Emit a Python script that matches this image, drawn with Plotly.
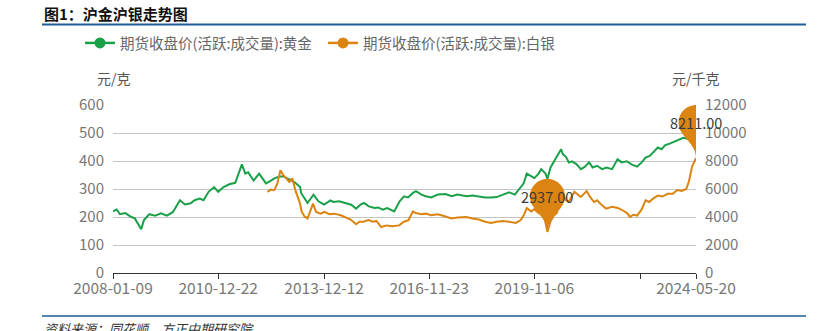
import numpy as np
import plotly.graph_objects as go

# ---- data -------------------------------------------------------------
gold_dates = [
    "2008-01-09", "2008-02-15", "2008-03-20", "2008-05-15", "2008-07-15", "2008-08-20",
    "2008-10-24", "2008-11-20", "2009-01-15", "2009-03-15", "2009-05-15", "2009-07-15",
    "2009-09-15", "2009-11-25", "2010-01-15", "2010-03-15", "2010-04-25", "2010-06-15",
    "2010-07-25", "2010-09-15", "2010-11-10", "2010-12-22", "2011-02-15", "2011-04-15",
    "2011-06-15", "2011-07-20", "2011-08-22", "2011-09-26", "2011-10-25", "2011-12-20",
    "2012-02-15", "2012-03-20", "2012-04-25", "2012-06-15", "2012-07-20", "2012-09-10",
    "2012-10-20", "2012-12-15", "2013-02-10", "2013-04-10", "2013-04-20", "2013-06-25",
    "2013-07-20", "2013-08-25", "2013-10-15", "2013-12-12", "2014-02-15", "2014-03-20",
    "2014-05-15", "2014-07-15", "2014-09-15", "2014-11-05", "2014-12-20", "2015-01-25",
    "2015-03-15", "2015-05-15", "2015-06-20", "2015-08-05", "2015-09-20", "2015-12-01",
    "2016-01-25", "2016-03-10", "2016-04-20", "2016-06-10", "2016-07-10", "2016-09-05",
    "2016-10-20", "2016-12-15", "2017-02-20", "2017-05-10", "2017-07-10", "2017-09-10",
    "2017-12-10", "2018-02-10", "2018-04-15", "2018-06-20", "2018-08-20", "2018-10-15",
    "2018-12-20", "2019-02-20", "2019-04-20", "2019-06-10", "2019-07-20", "2019-08-20",
    "2019-10-05", "2019-11-06", "2019-12-20", "2020-01-15", "2020-02-28", "2020-03-19",
    "2020-04-20", "2020-05-20", "2020-06-25", "2020-08-06", "2020-08-25", "2020-09-25",
    "2020-10-25", "2020-11-25", "2021-01-10", "2021-02-25", "2021-04-05", "2021-05-20",
    "2021-06-25", "2021-08-10", "2021-09-30", "2021-11-15", "2022-01-10", "2022-03-08",
    "2022-04-20", "2022-06-10", "2022-08-01", "2022-09-25", "2022-11-10", "2022-12-20",
    "2023-02-01", "2023-03-20", "2023-04-25", "2023-06-01", "2023-07-10", "2023-08-25",
    "2023-10-10", "2023-11-25", "2024-01-10", "2024-02-15", "2024-03-15", "2024-04-20",
    "2024-05-20",
]
gold_close = [
    220, 227, 210, 214, 200, 195,
    156, 188, 210, 205, 213, 205,
    218, 260, 245, 249, 260, 266,
    260, 290, 307, 290, 307, 317,
    322, 355, 388, 355, 360, 330,
    355, 338, 320, 330, 338, 345,
    345, 335, 325, 307, 286, 250,
    262, 280, 256, 244, 259, 254,
    256, 250, 244, 230, 244, 250,
    238, 232, 234, 226, 232, 220,
    256, 274, 270, 286, 292, 280,
    274, 270, 280, 282, 274, 280,
    274, 277, 274, 270, 270, 271,
    280, 288, 280, 303, 320, 355,
    347, 339, 355, 371, 355, 336,
    377, 395, 418, 442, 424, 415,
    395, 399, 389, 371, 379, 395,
    377, 383, 371, 377, 371, 406,
    395, 399, 387, 380, 395, 412,
    418, 436, 448, 442, 457, 462,
    469, 474, 483, 480, 515, 560,
    565,
]

silver_dates = [
    "2012-05-10", "2012-06-15", "2012-07-20", "2012-08-20", "2012-09-20", "2012-10-20",
    "2012-11-15", "2012-12-20", "2013-01-20", "2013-02-20", "2013-04-10", "2013-04-25",
    "2013-05-25", "2013-06-25", "2013-08-20", "2013-09-20", "2013-11-05", "2013-12-15",
    "2014-02-05", "2014-03-25", "2014-06-01", "2014-07-15", "2014-09-10", "2014-11-05",
    "2014-12-10", "2015-01-20", "2015-03-10", "2015-04-25", "2015-06-01", "2015-07-20",
    "2015-09-15", "2015-11-10", "2016-01-20", "2016-03-10", "2016-04-25", "2016-06-10",
    "2016-07-10", "2016-09-05", "2016-10-20", "2016-12-15", "2017-02-20", "2017-05-10",
    "2017-07-10", "2017-09-10", "2017-12-10", "2018-02-10", "2018-04-15", "2018-06-20",
    "2018-08-20", "2018-10-15", "2018-12-20", "2019-02-20", "2019-05-01", "2019-06-20",
    "2019-07-20", "2019-08-20", "2019-10-05", "2019-11-06", "2019-12-20", "2020-02-10",
    "2020-03-19", "2020-04-20", "2020-05-25", "2020-06-25", "2020-07-25", "2020-08-10",
    "2020-09-25", "2020-10-25", "2020-12-20", "2021-02-25", "2021-04-25", "2021-05-30",
    "2021-07-10", "2021-08-10", "2021-09-30", "2021-11-10", "2022-01-10", "2022-03-10",
    "2022-04-25", "2022-06-15", "2022-07-15", "2022-08-15", "2022-09-25", "2022-11-10",
    "2022-12-20", "2023-01-25", "2023-03-10", "2023-04-25", "2023-06-10", "2023-08-05",
    "2023-09-25", "2023-11-10", "2023-12-25", "2024-02-10", "2024-03-08", "2024-04-10",
    "2024-05-20",
]
silver_close = [
    5800, 5960, 5920, 6400, 7340, 6980,
    6800, 6500, 6760, 5920, 4960, 4400,
    4040, 3900, 4960, 4360, 4240, 4360,
    4200, 4240, 4120, 4000, 3820, 3480,
    3660, 3660, 3780, 3660, 3720, 3280,
    3400, 3340, 3400, 3660, 3780, 4400,
    4280, 4200, 4240, 4120, 4200, 4040,
    3900, 3960, 4000, 3900, 3820, 3660,
    3580, 3660, 3720, 3660, 3580, 3780,
    4120, 4640, 4400, 4560, 4280, 4200,
    2937, 3700, 4100, 4300, 5300, 5900,
    5200, 5100, 5800, 5430, 5850, 5430,
    5070, 5190, 4830, 4600, 4730, 4650,
    4500, 4260, 4000, 4160, 4100, 4540,
    5190, 5070, 5330, 5530, 5460, 5660,
    5660, 5930, 5860, 6000, 6530, 7600,
    8211,
]

gold_name = "期货收盘价(活跃:成交量):黄金"
silver_name = "期货收盘价(活跃:成交量):白银"

x_tick_vals = ["2008-01-09", "2010-12-22", "2013-12-12", "2016-11-23",
               "2019-11-06", "2022-10-28", "2024-05-20"]
x_tick_text = ["2008-01-09", "2010-12-22", "2013-12-12", "2016-11-23",
               "2019-11-06", "", "2024-05-20"]
left_ticks = [0, 100, 200, 300, 400, 500, 600]
right_ticks = [0, 2000, 4000, 6000, 8000, 10000, 12000]
right_tick_text = ["0", "2000", "4000", "6000", "8000", "10000", "12000"]

# ---- style ------------------------------------------------------------
GREEN = "#1BA04A"
ORANGE = "#DB8412"
FONT = "Noto Sans CJK SC"
W, H = 818, 331
L, R, T, B = 113, 122, 105, 58


def px_x(px):
    return (px - L) / (W - L - R)


def px_y(py):
    return (H - B - py) / (H - T - B)


def pin_path(r=17.5, c=35.5, n=48):
    """Balloon pin with its tip at (0, 0); circle of radius r centred c px above."""
    dy = r * r / c                    # junction of tail and head, below the centre
    dx = np.sqrt(r * r - dy * dy)
    ang = np.arcsin(dy / r)
    tan_x, tan_y = np.sin(ang), np.cos(ang)
    cp1, cp2 = r * 0.6, r * 0.7
    # head: from lower-left junction, over the top, to lower-right junction
    thetas = np.linspace(np.pi + ang, -ang, n)
    arc = [(np.cos(t) * r, c + np.sin(t) * r) for t in thetas]
    d = "M {:.2f} {:.2f}".format(*arc[0])
    for x, y in arc[1:]:
        d += " L {:.2f} {:.2f}".format(x, y)
    jx, jy = dx, c - dy
    d += " C {:.2f} {:.2f} 0 {:.2f} 0 0".format(jx - tan_x * cp1, jy - tan_y * cp1, cp2)
    d += " C 0 {:.2f} {:.2f} {:.2f} {:.2f} {:.2f} Z".format(
        cp2, -jx + tan_x * cp1, jy - tan_y * cp1, -jx, jy)
    return d, c


fig = go.Figure()

fig.add_trace(go.Scatter(x=gold_dates, y=gold_close, mode="lines", name=gold_name,
                         line=dict(color=GREEN, width=2), showlegend=False))
fig.add_trace(go.Scatter(x=silver_dates, y=silver_close, mode="lines", name=silver_name,
                         line=dict(color=ORANGE, width=2), yaxis="y2", showlegend=False))

# legend entries (line with a round marker)
for name, col in [(gold_name, GREEN), (silver_name, ORANGE)]:
    fig.add_trace(go.Scatter(x=[None], y=[None], mode="lines+markers", name=name,
                             line=dict(color=col, width=2.5),
                             marker=dict(color=col, size=11)))

# max / min pins on the silver series
s_vals = np.array(silver_close)
path, centre = pin_path()
shapes = []
annotations = []
for idx in (int(s_vals.argmax()), int(s_vals.argmin())):
    shapes.append(dict(type="path", xref="x", yref="y2",
                       xsizemode="pixel", ysizemode="pixel",
                       xanchor=silver_dates[idx], yanchor=silver_close[idx],
                       path=path, fillcolor=ORANGE, line=dict(width=0),
                       layer="above"))
    annotations.append(dict(x=silver_dates[idx], y=silver_close[idx], xref="x", yref="y2",
                            yshift=centre, text=f"{silver_close[idx]:.2f}",
                            showarrow=False, font=dict(family=FONT, size=14.5, color="#3a3a3a")))

# header / footer rules
rule = "#1F5C99"
shapes.append(dict(type="line", xref="paper", yref="paper",
                   x0=px_x(42), x1=px_x(806), y0=px_y(24.5), y1=px_y(24.5),
                   line=dict(color=rule, width=2)))
shapes.append(dict(type="line", xref="paper", yref="paper",
                   x0=px_x(42), x1=px_x(806), y0=px_y(316), y1=px_y(316),
                   line=dict(color=rule, width=1.5)))

annotations += [
    dict(x=px_x(42), y=px_y(14), xref="paper", yref="paper", xanchor="left",
         yanchor="middle", text="<b>图1：沪金沪银走势图</b>", showarrow=False,
         font=dict(family=FONT, size=15, color="#111")),
    dict(x=px_x(114), y=px_y(78), xref="paper", yref="paper", xanchor="center",
         yanchor="middle", text="元/克", showarrow=False,
         font=dict(family=FONT, size=14, color="#555")),
    dict(x=px_x(696), y=px_y(78), xref="paper", yref="paper", xanchor="center",
         yanchor="middle", text="元/千克", showarrow=False,
         font=dict(family=FONT, size=14, color="#555")),
    dict(x=px_x(42), y=px_y(328), xref="paper", yref="paper", xanchor="left",
         yanchor="middle", text="<i>资料来源：同花顺，方正中期研究院</i>", showarrow=False,
         font=dict(family=FONT, size=13, color="#333")),
]

fig.update_layout(
    width=W, height=H,
    margin=dict(l=L, r=R, t=T, b=B, pad=0),
    paper_bgcolor="white", plot_bgcolor="white",
    font=dict(family=FONT, size=14, color="#777"),
    showlegend=True,
    legend=dict(orientation="h", x=px_x(80), y=px_y(43), xanchor="left", yanchor="middle",
                font=dict(family=FONT, size=14.5, color="#666"),
                bgcolor="rgba(0,0,0,0)", itemwidth=30, tracegroupgap=0,
                entrywidth=198, entrywidthmode="pixels"),
    xaxis=dict(type="date", range=["2008-01-09", "2024-05-20"],
               tickmode="array", tickvals=x_tick_vals, ticktext=x_tick_text,
               showgrid=False, showline=True, linecolor="#333", linewidth=1,
               ticks="outside", ticklen=5, tickcolor="#333", ticklabelstandoff=-4,
               tickfont=dict(family=FONT, size=15.5, color="#777"), zeroline=False),
    yaxis=dict(range=[0, 600], tickmode="array", tickvals=left_ticks,
               showgrid=True, gridcolor="#c4c4c4", gridwidth=1, zeroline=False,
               showline=False, ticks="", ticklabelstandoff=8,
               tickfont=dict(family=FONT, size=15, color="#777")),
    yaxis2=dict(range=[0, 12000], overlaying="y", side="right", tickmode="array",
                tickvals=right_ticks, ticktext=right_tick_text,
                showgrid=False, zeroline=False, showline=False,
                ticks="", ticklabelstandoff=8,
                tickfont=dict(family=FONT, size=15, color="#777")),
    shapes=shapes,
    annotations=annotations,
)

fig.write_html("out.html")
